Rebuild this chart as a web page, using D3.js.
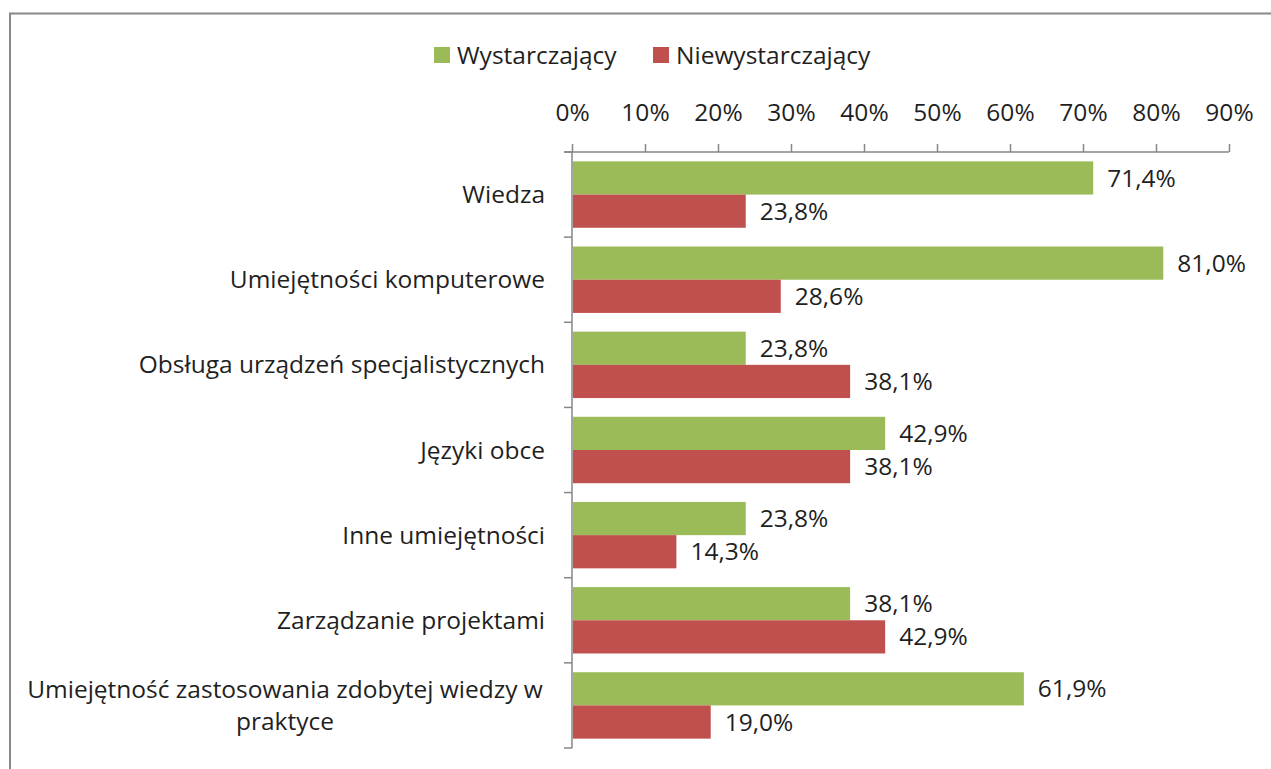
<!DOCTYPE html>
<html>
<head>
<meta charset="utf-8">
<script src="https://cdn.jsdelivr.net/npm/d3@7"></script>
<style>
  html, body { margin: 0; padding: 0; background: #fff; }
  svg { display: block; font-family: "Open Sans", "Noto Sans", sans-serif; }
</style>
</head>
<body>
<svg id="chart" width="1271" height="769"></svg>
<script>
// Ocena kompetencji: odsetek odpowiedzi w każdej kategorii
const categories = [
  "Wiedza",
  "Umiejętności komputerowe",
  "Obsługa urządzeń specjalistycznych",
  "Języki obce",
  "Inne umiejętności",
  "Zarządzanie projektami",
  "Umiejętność zastosowania zdobytej wiedzy w praktyce"
];
const seriesNames = ["Wystarczający", "Niewystarczający"];
const sufficient = [71.4, 81.0, 23.8, 42.9, 23.8, 38.1, 61.9];
const insufficient = [23.8, 28.6, 38.1, 38.1, 14.3, 42.9, 19.0];
const tickValues = [0, 10, 20, 30, 40, 50, 60, 70, 80, 90];

const colors = ["#9BBB59", "#C0504D"];
const textColor = "#1f1f1f";
const axisColor = "#868686";
const fontSize = 24.5;

const svg = d3.select("#chart");

// Ramka wykresu
svg.append("path")
  .attr("d", "M10,769 V13.5 H1271")
  .attr("fill", "none")
  .attr("stroke", "#888")
  .attr("stroke-width", 2);

const plot = { left: 572, right: 1229, top: 152, bottom: 748 };

const x = d3.scaleLinear().domain([0, 90]).range([plot.left, plot.right]);
const y = d3.scaleBand().domain(categories).range([plot.top, plot.bottom]).paddingInner(0.22).paddingOuter(0.11);
const sub = d3.scaleBand().domain(seriesNames).range([0, y.bandwidth()]);

// Oś wartości (u góry)
const xAxis = d3.axisTop(x).tickValues(tickValues).tickFormat(d => d + "%").tickSize(8).tickSizeOuter(0).tickPadding(23);
const gx = svg.append("g").attr("transform", `translate(0,${plot.top})`).call(xAxis);
gx.attr("font-family", null).attr("font-size", null);
gx.select(".domain").attr("stroke", axisColor).attr("stroke-width", 1.5)
  .attr("d", `M${plot.left - 8},0H${plot.right}`);
gx.selectAll(".tick line").attr("stroke", axisColor).attr("stroke-width", 1.5);
gx.selectAll(".tick text").attr("fill", textColor).attr("font-size", fontSize);

// Oś kategorii
const step = (plot.bottom - plot.top) / categories.length;
const gy = svg.append("g");
gy.append("line").attr("x1", plot.left).attr("x2", plot.left)
  .attr("y1", plot.top).attr("y2", plot.bottom)
  .attr("stroke", axisColor).attr("stroke-width", 1.5);
gy.selectAll("line.cat").data(d3.range(categories.length + 1)).join("line")
  .attr("class", "cat")
  .attr("x1", plot.left - 8).attr("x2", plot.left)
  .attr("y1", i => plot.top + i * step).attr("y2", i => plot.top + i * step)
  .attr("stroke", axisColor).attr("stroke-width", 1.5);

// Etykiety kategorii (długa etykieta w dwóch wierszach)
const labelRight = 545;
categories.forEach((c, i) => {
  const cy = y(c) + y.bandwidth() / 2;
  if (c.length > 40) {
    const lines = ["Umiejętność zastosowania zdobytej wiedzy w", "praktyce"];
    const t = svg.append("text").attr("fill", textColor).attr("font-size", fontSize)
      .attr("text-anchor", "middle");
    lines.forEach((ln, k) => {
      t.append("tspan").attr("x", 285).attr("y", cy - 16 + k * 32).attr("dy", "0.35em").text(ln);
    });
  } else {
    svg.append("text").attr("x", labelRight).attr("y", cy).attr("dy", "0.35em")
      .attr("text-anchor", "end").attr("fill", textColor).attr("font-size", fontSize).text(c);
  }
});

// Słupki i etykiety wartości
const fmt = v => v.toFixed(1).replace(".", ",") + "%";
[sufficient, insufficient].forEach((vals, s) => {
  const g = svg.append("g");
  g.selectAll("rect").data(vals).join("rect")
    .attr("x", x(0) + 1)
    .attr("y", (d, i) => y(categories[i]) + sub(seriesNames[s]))
    .attr("width", d => x(d) - x(0) - 1)
    .attr("height", sub.bandwidth())
    .attr("fill", colors[s]);
  g.selectAll("text").data(vals).join("text")
    .attr("x", d => x(d) + 14)
    .attr("y", (d, i) => y(categories[i]) + sub(seriesNames[s]) + sub.bandwidth() / 2)
    .attr("dy", "0.35em")
    .attr("fill", textColor).attr("font-size", fontSize)
    .text(fmt);
});

// Legenda
const legendItems = [{ name: seriesNames[0], x: 434 }, { name: seriesNames[1], x: 653 }];
const lg = svg.append("g");
legendItems.forEach((it, i) => {
  lg.append("rect").attr("x", it.x).attr("y", 47).attr("width", 16).attr("height", 16).attr("fill", colors[i]);
  lg.append("text").attr("x", it.x + 23).attr("y", 55).attr("dy", "0.35em")
    .attr("fill", textColor).attr("font-size", fontSize).text(it.name);
});
</script>
</body>
</html>
